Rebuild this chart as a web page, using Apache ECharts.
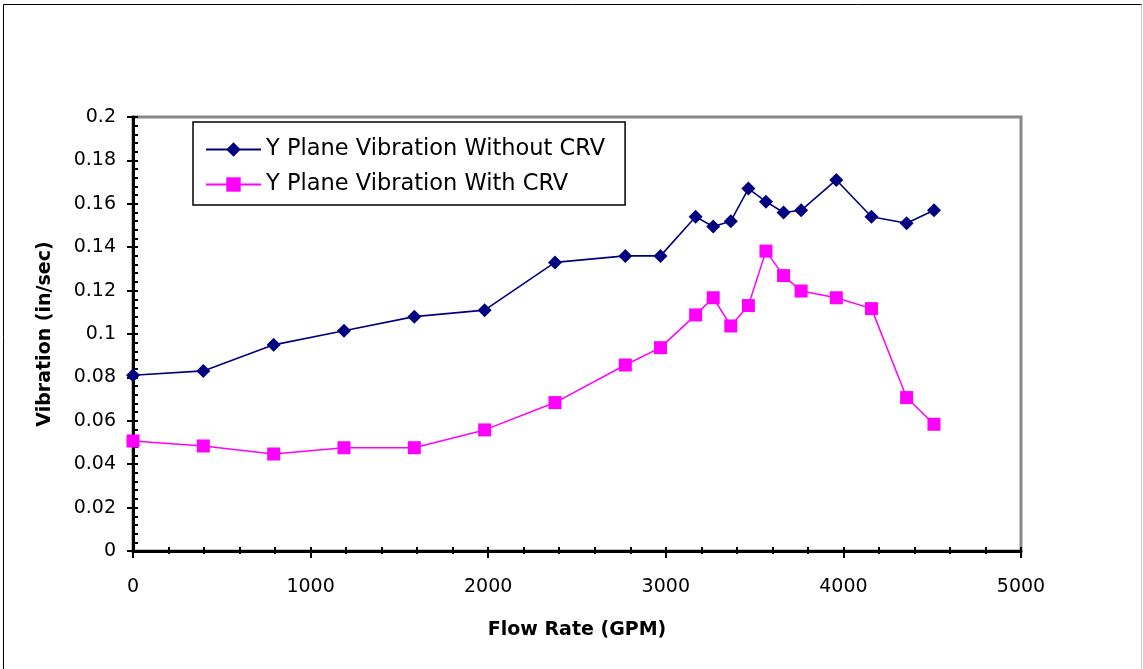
<!DOCTYPE html>
<html>
<head>
<meta charset="utf-8">
<script src="https://cdn.jsdelivr.net/npm/echarts@6/dist/echarts.min.js"></script>
<style>
  html, body { margin: 0; padding: 0; background: #fff; }
  #chart { width: 1143px; height: 669px; }
</style>
</head>
<body>
<div id="chart"></div>
<script>
// Flow rate (GPM) at each measurement
const flowRate = [0, 396, 792, 1188, 1584, 1980, 2376, 2772, 2970, 3168, 3267, 3366, 3465, 3564, 3663, 3762, 3960, 4158, 4356, 4510];
// Y plane vibration (in/sec)
const withoutCRV = [0.081, 0.083, 0.095, 0.1015, 0.108, 0.111, 0.133, 0.136, 0.136, 0.154, 0.1495, 0.152, 0.167, 0.161, 0.156, 0.157, 0.171, 0.154, 0.151, 0.157];
const withCRV = [0.0507, 0.0484, 0.0447, 0.0476, 0.0476, 0.0558, 0.0684, 0.0857, 0.0937, 0.1088, 0.1167, 0.1037, 0.1131, 0.1382, 0.1269, 0.1198, 0.1167, 0.1117, 0.0707, 0.0584];
const seriesNames = ['Y Plane Vibration Without CRV', 'Y Plane Vibration With CRV'];
const xTitle = 'Flow Rate (GPM)';
const yTitle = 'Vibration (in/sec)';

const FONT = '"DejaVu Sans", "Liberation Sans", Arial, sans-serif';
const gridRect = { left: 133, right: 122, top: 117, bottom: 118 };

const pairs = (xs, ys) => xs.map((x, i) => [x, ys[i]]);

const chart = echarts.init(document.getElementById('chart'), null, { renderer: 'canvas' });

const xBase = { type: 'value', min: 0, max: 5000, interval: 1000 };
const yBase = { type: 'value', min: 0, max: 0.2, interval: 0.02 };

chart.setOption({
  animation: false,
  backgroundColor: '#fff',
  graphic: [
    { type: 'line', shape: { x1: 3.5, y1: 4.5, x2: 3.5, y2: 669 }, style: { stroke: '#000', lineWidth: 1 } },
    { type: 'line', shape: { x1: 3.5, y1: 4.5, x2: 1142, y2: 4.5 }, style: { stroke: '#000', lineWidth: 1 } },
    { type: 'line', shape: { x1: 1141.5, y1: 4.5, x2: 1141.5, y2: 669 }, style: { stroke: '#ccc', lineWidth: 1 } }
  ],
  grid: [
    Object.assign({ show: true, borderColor: '#888', borderWidth: 3, backgroundColor: '#fff' }, gridRect),
    Object.assign({ show: false }, gridRect)
  ],
  legend: {
    orient: 'vertical',
    left: 193,
    top: 122,
    backgroundColor: '#fff',
    borderColor: '#000',
    borderWidth: 1.5,
    padding: [16, 20, 9, 12],
    itemWidth: 55,
    itemHeight: 18,
    itemGap: 12,
    textStyle: { fontFamily: FONT, fontSize: 22.5, color: '#000' },
    data: seriesNames
  },
  xAxis: [
    Object.assign({}, xBase, {
      gridIndex: 0,
      name: xTitle,
      nameLocation: 'middle',
      nameGap: 70,
      nameTextStyle: { fontFamily: FONT, fontSize: 19, fontWeight: 'bold', color: '#000' },
      axisLine: { show: true, onZero: false, lineStyle: { color: '#000', width: 3 } },
      axisTick: { show: true, inside: false, length: 7, lineStyle: { color: '#000', width: 2 } },
      minorTick: { show: true, splitNumber: 5, length: 3, lineStyle: { color: '#000', width: 2 } },
      axisLabel: { margin: 27, fontFamily: FONT, fontSize: 19, color: '#000', formatter: v => String(v) },
      splitLine: { show: false }
    }),
    Object.assign({}, xBase, {
      gridIndex: 1,
      axisLine: { show: false },
      axisTick: { show: true, inside: true, length: 4, lineStyle: { color: '#000', width: 2 } },
      minorTick: { show: true, splitNumber: 5, length: 4, lineStyle: { color: '#000', width: 2 } },
      axisLabel: { show: false },
      splitLine: { show: false }
    })
  ],
  yAxis: [
    Object.assign({}, yBase, {
      gridIndex: 0,
      name: yTitle,
      nameLocation: 'middle',
      nameGap: 78,
      nameTextStyle: { fontFamily: FONT, fontSize: 19, fontWeight: 'bold', color: '#000' },
      axisLine: { show: true, onZero: false, lineStyle: { color: '#000', width: 3 } },
      axisTick: { show: true, inside: false, length: 6, lineStyle: { color: '#000', width: 2 } },
      axisLabel: { margin: 17, fontFamily: FONT, fontSize: 19, color: '#000' },
      splitLine: { show: false }
    }),
    Object.assign({}, yBase, {
      gridIndex: 1,
      axisLine: { show: false },
      axisTick: { show: true, inside: true, length: 5, lineStyle: { color: '#000', width: 2 } },
      minorTick: { show: true, splitNumber: 5, length: 5, lineStyle: { color: '#000', width: 2 } },
      axisLabel: { show: false },
      splitLine: { show: false }
    })
  ],
  series: [
    {
      name: seriesNames[0],
      type: 'line',
      xAxisIndex: 0,
      yAxisIndex: 0,
      data: pairs(flowRate, withoutCRV),
      symbol: 'diamond',
      symbolSize: 14,
      showAllSymbol: true,
      itemStyle: { color: '#000080' },
      lineStyle: { color: '#000080', width: 1.6 },
      z: 3
    },
    {
      name: seriesNames[1],
      type: 'line',
      xAxisIndex: 0,
      yAxisIndex: 0,
      data: pairs(flowRate, withCRV),
      symbol: 'rect',
      symbolSize: 13,
      showAllSymbol: true,
      itemStyle: { color: '#ff00ff' },
      lineStyle: { color: '#ff00ff', width: 1.5 },
      z: 3
    }
  ]
});
</script>
</body>
</html>
